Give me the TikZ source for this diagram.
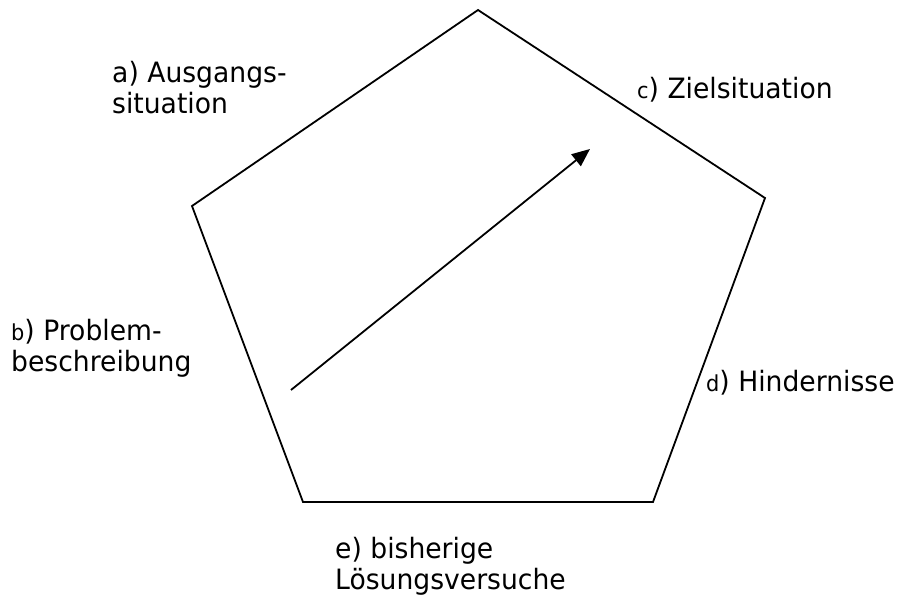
\documentclass[tikz,border=0pt]{standalone}
\usepackage{fontspec}
\setmainfont{DejaVu Sans}[FakeStretch=0.95]
\usetikzlibrary{arrows.meta}
\newcommand{\smlet}[1]{{\fontsize{22}{31}\selectfont #1}}

\begin{document}
\begin{tikzpicture}[x = 1pt, y = -1pt, label text/.style = {anchor = west, align = left, inner sep = 0pt, font = \fontsize{28}{31}\selectfont}, edge/.style = {line width = 1.8pt}]
      \useasboundingbox (0,0) rectangle (898,596);
      \coordinate (top) at (478,10);
      \coordinate (right) at (765,198);
      \coordinate (bright) at (653,502);
      \coordinate (bleft) at (303,502);
      \coordinate (left) at (192,206);
      \coordinate (start) at (291,390);
      \coordinate (goal) at (590,149);
      \draw[edge] (top) -- (right) -- (bright) -- (bleft) -- (left) -- cycle;
      \draw[edge, -{Triangle[length = 18pt, width = 15pt]}] (start) -- (goal);
      \node[label text] (a) at (112,88) {a) Ausgangs-\\situation};
      \node[label text] (b) at (11,348) {\smlet{b}) Problem-\\beschreibung};
      \node[label text] (c) at (637,90) {\smlet{c}) Zielsituation};
      \node[label text] (d) at (706,383) {\smlet{d}) Hindernisse};
      \node[label text] (e) at (335,566) {e) bisherige\\Lösungsversuche};
\end{tikzpicture}
\end{document}
